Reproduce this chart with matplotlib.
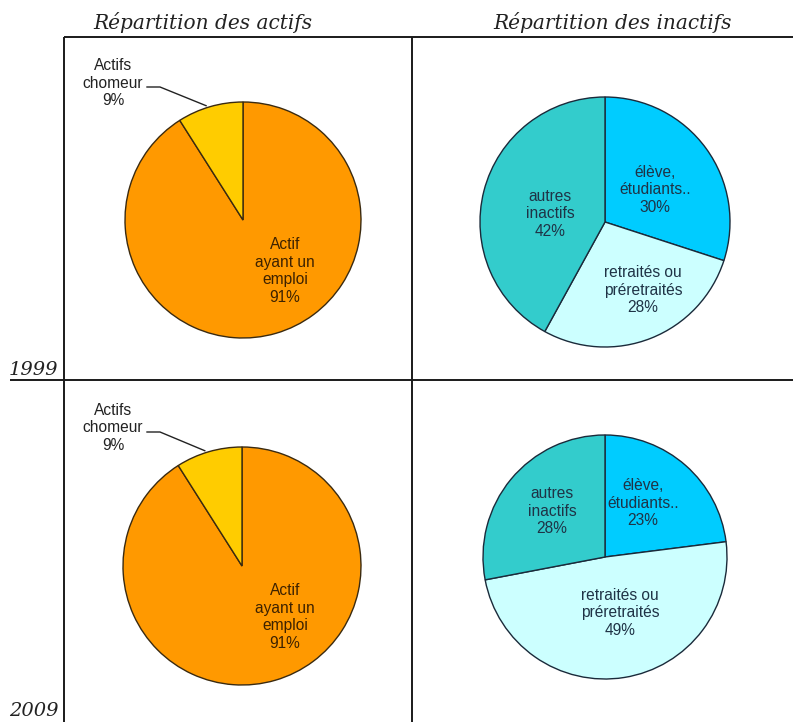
import numpy as np
import matplotlib
matplotlib.use("Agg")
import matplotlib.pyplot as plt

# ---- data ----
years = ["1999", "2009"]
actifs_labels = ["Actif\nayant un\nemploi", "Actifs\nchomeur"]
actifs_1999 = [91, 9]
actifs_2009 = [91, 9]
inactifs_labels = ["élève,\nétudiants..", "retraités ou\npréretraités", "autres\ninactifs"]
inactifs_1999 = [30, 28, 42]
inactifs_2009 = [23, 49, 28]
col_titles = ["Répartition des actifs", "Répartition des inactifs"]

actifs_colors = ["#FF9900", "#FFCC00"]
inactifs_colors = ["#00CCFF", "#CCFFFF", "#33CCCC"]

W, H = 793, 722
fig = plt.figure(figsize=(W / 100, H / 100), dpi=100)
ax = fig.add_axes([0, 0, 1, 1])


def Y(y):
    # pixel row (top-down) to axis y (bottom-up)
    return H - y


SANS = ["Liberation Sans", "DejaVu Sans"]
SERIF = ["DejaVu Serif"]
LBL = 11.2

# ---- table rules ----
rule = dict(color="#1a1a1a", lw=1.4, solid_capstyle="butt")
ax.plot([64, W], [Y(37), Y(37)], **rule)
ax.plot([10, W], [Y(380), Y(380)], **rule)
ax.plot([64, 64], [Y(37), Y(H)], **rule)
ax.plot([412, 412], [Y(37), Y(H)], **rule)

# ---- column titles and row years ----
for x, t in zip([203, 613], col_titles):
    ax.text(x, Y(29), t, ha="center", va="baseline", fontsize=14.5,
            style="italic", family=SERIF, color="#222222")
for yb, yr in zip([375, 716], years):
    ax.text(9, Y(yb), yr, ha="left", va="baseline", fontsize=14,
            style="italic", family=SERIF, color="#222222")

wedge_kw = dict(edgecolor="#3a2a10", linewidth=1.0)

# ---- actifs pies ----
actifs_layout = [  # centre, radius, inside-label pos, outside-label centre
    dict(c=(243, 220), r=118, lab=(285, 271), out=(113, 83)),
    dict(c=(242, 566), r=119, lab=(285, 617), out=(113, 428)),
]
for vals, lay in zip([actifs_1999, actifs_2009], actifs_layout):
    cx, cy = lay["c"]
    r = lay["r"]
    ax.pie(vals, colors=actifs_colors, startangle=90, counterclock=False,
           center=(cx, Y(cy)), radius=r, wedgeprops=wedge_kw)
    # label inside the main slice
    ax.text(lay["lab"][0], Y(lay["lab"][1]),
            f"{actifs_labels[0]}\n{vals[0]}%", ha="center", va="center",
            fontsize=LBL, family=SANS, color="#3d2200", linespacing=1.2)
    # outside label for the small slice with a leader line
    ox, oy = lay["out"]
    ax.text(ox, Y(oy), f"{actifs_labels[1]}\n{vals[1]}%", ha="center",
            va="center", fontsize=LBL, family=SANS, color="#222222",
            linespacing=1.2)
    mid = np.deg2rad(90 + vals[1] / 100 * 360 / 2)
    ex, ey = cx + r * np.cos(mid) - 4, Y(cy) + r * np.sin(mid) + 1
    ax.plot([ox + 34, ox + 47, ex], [Y(oy + 4), Y(oy + 4), ey],
            color="#222222", lw=1.0)

# ---- inactifs pies ----
inactifs_layout = [
    dict(c=(605, 222), r=125,
         labs=[(655, 190), (643, 290), (550, 214)]),
    dict(c=(605, 557), r=122,
         labs=[(643, 503), (620, 613), (552, 511)]),
]
for vals, lay in zip([inactifs_1999, inactifs_2009], inactifs_layout):
    cx, cy = lay["c"]
    ax.pie(vals, colors=inactifs_colors, startangle=90, counterclock=False,
           center=(cx, Y(cy)), radius=lay["r"],
           wedgeprops=dict(edgecolor="#1a2a3a", linewidth=1.0))
    for name, v, (lx, ly) in zip(inactifs_labels, vals, lay["labs"]):
        ax.text(lx, Y(ly), f"{name}\n{v}%", ha="center", va="center",
                fontsize=LBL, family=SANS, color="#1f3346", linespacing=1.2)

ax.set_xlim(0, W)
ax.set_ylim(0, H)
ax.set_aspect("equal")
ax.axis("off")

fig.savefig("out.png", dpi=100, facecolor="white")
